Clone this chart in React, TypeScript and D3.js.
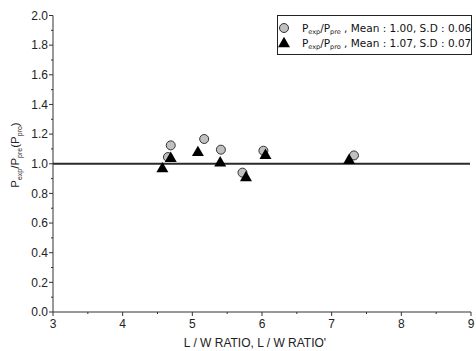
import React from "react";
import * as d3 from "d3";

const preX = [4.65, 4.69, 5.17, 5.41, 5.72, 6.02, 7.32];
const preY = [1.045, 1.124, 1.167, 1.095, 0.94, 1.088, 1.056];
const proX = [4.57, 4.69, 5.08, 5.40, 5.77, 6.05, 7.25];
const proY = [0.97, 1.04, 1.08, 1.01, 0.91, 1.06, 1.027];
const xTicks = [3, 4, 5, 6, 7, 8, 9];
const yTicks = [0, 0.2, 0.4, 0.6, 0.8, 1.0, 1.2, 1.4, 1.6, 1.8, 2.0];
const refValue = 1.0;

export default function App() {
  const W = 476, H = 351;
  const x = d3.scaleLinear().domain([3, 9]).range([53, 471]);
  const y = d3.scaleLinear().domain([0, 2]).range([312, 15.5]);
  const axisColor = "#333";
  const font = "'Liberation Sans', Arial, sans-serif";
  const xMinor = d3.range(3, 9.001, 0.5).filter((v) => Math.abs(v - Math.round(v)) > 0.01);
  const yMinor = d3.range(0, 2.001, 0.1).filter((v) => Math.abs(v * 5 - Math.round(v * 5)) > 0.01);
  const tri = (cx: number, cy: number, s = 12) => {
    const h = s * 0.87;
    return `M${cx},${cy - h * 0.6}L${cx + s / 2},${cy + h * 0.4}L${cx - s / 2},${cy + h * 0.4}Z`;
  };
  const legendFont = "'DejaVu Sans', Verdana, sans-serif";
  return (
    <svg width={W} height={H} style={{ position: "absolute", left: 0, top: 0, background: "#fff" }}>
      <line x1={x(3)} x2={x(9) - 1} y1={y(refValue)} y2={y(refValue)} stroke="#2a2a2a" strokeWidth={2} />
      <line x1={x(3)} x2={x(3)} y1={y(0)} y2={y(2)} stroke={axisColor} strokeWidth={1} />
      <line x1={x(3)} x2={x(9)} y1={y(0)} y2={y(0)} stroke={axisColor} strokeWidth={1} />
      {yTicks.map((t) => (
        <g key={"y" + t}>
          <line x1={x(3) - 4} x2={x(3)} y1={y(t)} y2={y(t)} stroke={axisColor} />
          <text x={x(3) - 5} y={y(t)} dy="0.35em" textAnchor="end" fontFamily={font} fontSize={12} fill="#222">
            {t.toFixed(1)}
          </text>
        </g>
      ))}
      {yMinor.map((t) => (
        <line key={"ym" + t} x1={x(3) - 2} x2={x(3)} y1={y(t)} y2={y(t)} stroke={axisColor} />
      ))}
      {xTicks.map((t) => (
        <g key={"x" + t}>
          <line x1={x(t)} x2={x(t)} y1={y(0)} y2={y(0) + 4} stroke={axisColor} />
          <text x={x(t)} y={y(0) + 16} textAnchor="middle" fontFamily={font} fontSize={12} fill="#222">
            {t}
          </text>
        </g>
      ))}
      {xMinor.map((t) => (
        <line key={"xm" + t} x1={x(t)} x2={x(t)} y1={y(0)} y2={y(0) + 2} stroke={axisColor} />
      ))}
      <text x={255} y={347} textAnchor="middle" fontFamily={font} fontSize={12} fill="#222">
        L / W RATIO, L / W RATIO'
      </text>
      <text transform="translate(19,155) rotate(-90)" textAnchor="middle" fontFamily={font} fontSize={11.5} fill="#222">
        P<tspan fontSize={7} dy={3}>exp</tspan>
        <tspan dy={-3}>/P</tspan>
        <tspan fontSize={7} dy={3}>pre</tspan>
        <tspan dy={-3}>(P</tspan>
        <tspan fontSize={7} dy={3}>pro</tspan>
        <tspan dy={-3}>)</tspan>
      </text>
      {preX.map((v, i) => (
        <circle key={"c" + i} cx={x(v)} cy={y(preY[i])} r={4.5} fill="#c0c0c0" stroke="#333" strokeWidth={1} />
      ))}
      {proX.map((v, i) => (
        <path key={"t" + i} d={tri(x(v), y(proY[i]))} fill="#000" />
      ))}
      <rect x={277.5} y={15.5} width={194} height={39} fill="#fff" stroke="#222" strokeWidth={1} />
      <circle cx={284} cy={28} r={4.5} fill="#c0c0c0" stroke="#333" />
      <path d={tri(284, 43)} fill="#000" />
      <text x={302} y={31.5} fontFamily={legendFont} fontSize={10.5} fill="#111">
        P<tspan fontSize={6.5} dy={2}>exp</tspan>
        <tspan dy={-2}>/P</tspan>
        <tspan fontSize={6.5} dy={2}>pre</tspan>
        <tspan dy={-2}> , Mean : 1.00, S.D : 0.06</tspan>
      </text>
      <text x={302} y={47} fontFamily={legendFont} fontSize={10.5} fill="#111">
        P<tspan fontSize={6.5} dy={2}>exp</tspan>
        <tspan dy={-2}>/P</tspan>
        <tspan fontSize={6.5} dy={2}>pro</tspan>
        <tspan dy={-2}> , Mean : 1.07, S.D : 0.07</tspan>
      </text>
    </svg>
  );
}
